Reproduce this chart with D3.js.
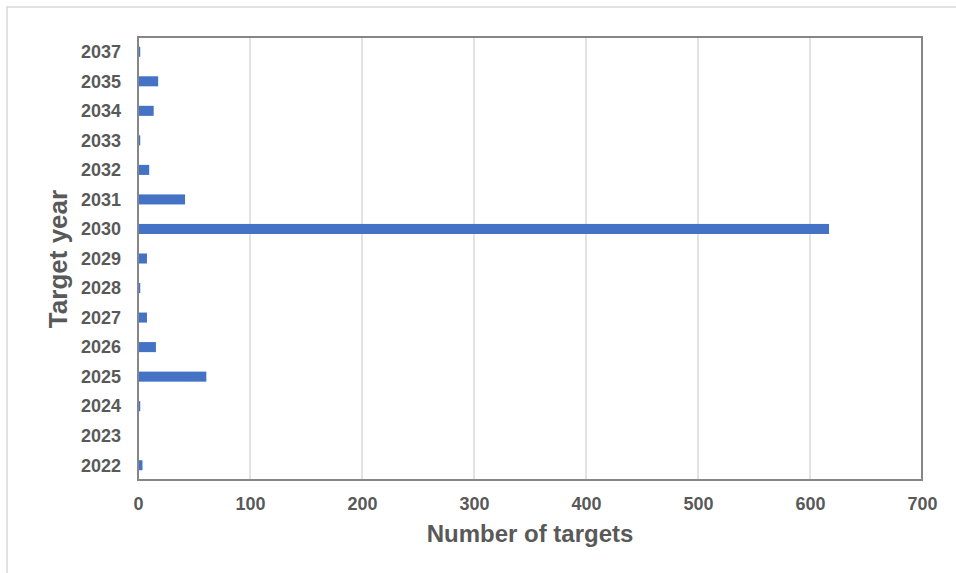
<!DOCTYPE html>
<html>
<head>
<meta charset="utf-8">
<script src="https://cdn.jsdelivr.net/npm/d3@7"></script>
<style>
  body { margin: 0; background: #fff; }
  svg { display: block; font-family: "Liberation Sans", Arial, sans-serif; }
  .tick text { font-weight: bold; fill: #595959; font-size: 18px; }
  .axis-title { font-weight: bold; fill: #595959; font-size: 24px; }
</style>
</head>
<body>
<div id="chart"></div>
<script>
// target years, bottom to top as shown
const years = ["2022", "2023", "2024", "2025", "2026", "2027", "2028", "2029",
  "2030", "2031", "2032", "2033", "2034", "2035", "2037"];
const targets = [4, 0.3, 2, 61, 16, 8, 2, 8, 617, 42, 10, 2, 14, 18, 2];
const xTicks = [0, 100, 200, 300, 400, 500, 600, 700];

const W = 956, H = 573;
const margin = { top: 37, right: 34, bottom: 93, left: 138 },
  width = W - margin.left - margin.right,
  height = H - margin.top - margin.bottom;

const svg = d3.select("#chart").append("svg")
  .attr("width", W)
  .attr("height", H);

// outer chart-area frame (only top and left edges visible)
svg.append("path")
  .attr("d", "M7," + H + "V7H" + W)
  .attr("fill", "none")
  .attr("stroke", "#d9d9d9")
  .attr("stroke-width", 1.5);

const g = svg.append("g")
  .attr("transform", "translate(" + margin.left + "," + margin.top + ")");

const x = d3.scaleLinear()
  .domain([0, 700])
  .range([0, width]);

const y = d3.scaleBand()
  .domain(years.slice().reverse())
  .range([0, height])
  .paddingInner(0.66)
  .paddingOuter(0.33);

// vertical gridlines
g.append("g")
  .attr("class", "grid")
  .selectAll("line")
  .data(xTicks.slice(1, -1))
  .join("line")
  .attr("x1", d => x(d))
  .attr("x2", d => x(d))
  .attr("y1", 0)
  .attr("y2", height)
  .attr("stroke", "#d9d9d9")
  .attr("stroke-width", 1.5);

g.append("g")
  .selectAll("rect")
  .data(years.map((d, i) => ({ year: d, value: targets[i] })))
  .join("rect")
  .attr("x", x(0))
  .attr("y", d => y(d.year))
  .attr("width", d => x(d.value) - x(0))
  .attr("height", y.bandwidth())
  .attr("fill", "#4472c4");

// plot frame
g.append("rect")
  .attr("width", width)
  .attr("height", height)
  .attr("fill", "none")
  .attr("stroke", "#868686")
  .attr("stroke-width", 2);

g.append("g")
  .attr("transform", "translate(0," + height + ")")
  .call(d3.axisBottom(x).tickValues(xTicks).tickSize(0).tickPadding(17))
  .call(s => s.select(".domain").remove());

g.append("g")
  .call(d3.axisLeft(y).tickSize(0).tickPadding(17))
  .call(s => s.select(".domain").remove())
  .selectAll("text")
  .attr("dy", "0.35em");

svg.append("text")
  .attr("class", "axis-title")
  .attr("x", 530)
  .attr("y", 542)
  .attr("text-anchor", "middle")
  .text("Number of targets");

svg.append("text")
  .attr("class", "axis-title")
  .attr("transform", "translate(67,259) rotate(-90)")
  .attr("text-anchor", "middle")
  .style("font-size", "26px")
  .text("Target year");
</script>
</body>
</html>
